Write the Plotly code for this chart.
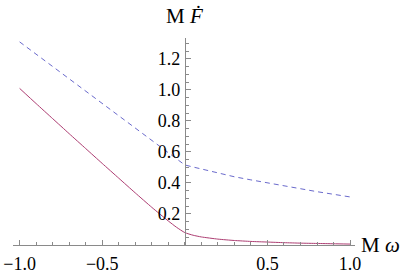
import plotly.graph_objects as go

# M*omega samples
omega = [-1.0, -0.9, -0.8, -0.7, -0.6, -0.5, -0.4, -0.3, -0.2, -0.1, -0.05, 0.0,
         0.05, 0.1, 0.2, 0.3, 0.4, 0.5, 0.6, 0.7, 0.8, 0.9, 1.0]

# solid (red) curve
f_solid = [1.01, 0.912, 0.815, 0.718, 0.622, 0.526, 0.431, 0.336, 0.243, 0.155, 0.114, 0.080,
           0.063, 0.052, 0.038, 0.029, 0.023, 0.019, 0.015, 0.012, 0.010, 0.008, 0.006]

# dashed (blue) curve
f_dashed = [1.31, 1.23, 1.15, 1.07, 0.99, 0.91, 0.83, 0.75, 0.67, 0.595, 0.555, 0.516,
            0.503, 0.49, 0.465, 0.44, 0.42, 0.40, 0.38, 0.362, 0.344, 0.327, 0.31]

y_ticks = [0.2, 0.4, 0.6, 0.8, 1.0, 1.2]
x_ticks = [-1.0, -0.5, 0.5, 1.0]

SERIF = "Liberation Serif, Times New Roman, serif"
AXIS_COLOR = "#8a8a8a"

fig = go.Figure()
fig.add_trace(go.Scatter(x=omega, y=f_dashed, mode="lines",
                         line=dict(color="#6a6acc", width=1, dash="5px,4px")))
fig.add_trace(go.Scatter(x=omega, y=f_solid, mode="lines",
                         line_shape="spline", line_smoothing=0.5,
                         line=dict(color="#ad3d72", width=1)))

x0, x1 = -1.04, 1.03
fig.update_layout(
    width=411, height=273,
    margin=dict(l=13, r=56, t=38, b=28, autoexpand=False),
    paper_bgcolor="white", plot_bgcolor="white",
    showlegend=False,
    font=dict(family=SERIF, size=18, color="black"),
    xaxis=dict(
        range=[x0, x1], showgrid=False, zeroline=False, automargin=False,
        showline=True, linecolor=AXIS_COLOR, linewidth=1,
        tickvals=x_ticks, ticktext=["\u22121.0", "\u22120.5", "0.5", "1.0"],
        ticks="inside", ticklen=5, tickcolor=AXIS_COLOR,
        minor=dict(ticks="inside", ticklen=3, tickcolor=AXIS_COLOR, dtick=0.1, tick0=0),
        tickfont=dict(family=SERIF, size=18),
        ticklabelstandoff=2,
    ),
    yaxis=dict(
        range=[0, 1.335], showgrid=False, zeroline=False, automargin=False,
        anchor="free", position=(0 - x0) / (x1 - x0),
        showline=True, linecolor=AXIS_COLOR, linewidth=1,
        tickvals=y_ticks, ticktext=["0.2", "0.4", "0.6", "0.8", "1.0", "1.2"],
        ticks="inside", ticklen=5, tickcolor=AXIS_COLOR,
        minor=dict(ticks="inside", ticklen=3, tickcolor=AXIS_COLOR, dtick=0.05, tick0=0),
        tickfont=dict(family=SERIF, size=18),
        ticklabelstandoff=1,
    ),
    annotations=[
        dict(text="M <i>F\u0307</i>", x=0, y=1.0, xref="x", yref="paper",
             xanchor="center", yanchor="bottom", yshift=8, showarrow=False,
             font=dict(family=SERIF, size=21)),
        dict(text="M <i>\u03c9</i>", x=1.0, y=0, xref="paper", yref="y",
             xanchor="left", yanchor="middle", xshift=4, showarrow=False,
             font=dict(family=SERIF, size=21)),
    ],
)

# the page's default 8px body margin would push the 411x273 figure out of the window
fig.write_html("out.html", config={"displayModeBar": False},
               post_script="document.body.style.margin='0px';")
